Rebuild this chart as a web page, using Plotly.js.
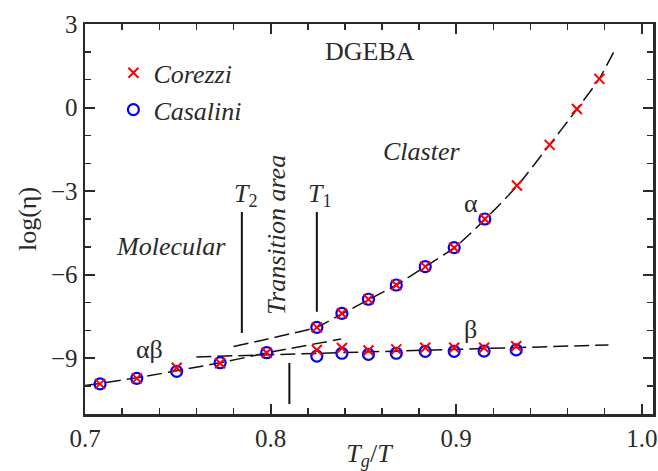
<!DOCTYPE html>
<html>
<head>
<meta charset="utf-8">
<script src="https://cdn.plot.ly/plotly-3.0.1.min.js"></script>
<style>html,body{margin:0;padding:0;background:#fff;}#chart{width:658px;height:471px;}</style>
</head>
<body>
<div id="chart"></div>
<script>
// ---- Data ----
// alpha-beta region (both data sets)
const abX = [0.7081, 0.7279, 0.7494, 0.7728, 0.7979];
const abCasalini = [-9.92, -9.72, -9.47, -9.16, -8.80];
const abCorezzi = [-9.92, -9.72, -9.34, -9.18, -8.80];
// alpha branch
const alphaX = [0.8249, 0.8384, 0.8527, 0.8677, 0.8833, 0.8989, 0.9154];
const alphaCasalini = [-7.89, -7.39, -6.88, -6.37, -5.71, -5.03, -4.00];
const alphaXCorezzi = [0.8249, 0.8384, 0.8527, 0.8677, 0.8833, 0.8989, 0.9154, 0.9327, 0.9503, 0.9650, 0.9771];
const alphaCorezzi = [-7.89, -7.39, -6.88, -6.37, -5.71, -5.03, -4.00, -2.80, -1.34, -0.05, 1.03];
// beta branch
const betaX = [0.8249, 0.8384, 0.8527, 0.8677, 0.8833, 0.8989, 0.9150, 0.9323];
const betaCasalini = [-8.92, -8.82, -8.86, -8.82, -8.75, -8.75, -8.74, -8.70];
const betaCorezzi = [-8.70, -8.63, -8.72, -8.68, -8.62, -8.62, -8.62, -8.57];
// fitted (dashed) curves
const fitAbX = [0.700, 0.725, 0.750, 0.775, 0.800, 0.820, 0.838];
const fitAbY = [-9.98, -9.73, -9.44, -9.13, -8.78, -8.53, -8.31];
const fitBetaX = [0.760, 0.850, 0.982];
const fitBetaY = [-8.95, -8.77, -8.52];
const fitAlphaX = [0.780, 0.795, 0.810, 0.825, 0.838, 0.853, 0.868, 0.883, 0.899, 0.915, 0.933, 0.950, 0.965, 0.977, 0.986];
const fitAlphaY = [-8.58, -8.36, -8.13, -7.88, -7.42, -6.89, -6.36, -5.72, -5.03, -4.05, -2.80, -1.36, -0.06, 1.03, 2.14];
// marker lines (T2, T1, lower divider)
const vLineX = [0.7845, 0.8249, 0.8101];
const vLineY0 = [-3.75, -3.75, -9.17];
const vLineY1 = [-8.09, -7.33, -10.64];
// tick labels
const xTicks = [0.7, 0.8, 0.9, 1.0];
const yTicks = [-9, -6, -3, 0, 3];

const FONT = 'Liberation Serif';
const INK = '#2a2a2a';
const dash = '15px,6px';
const FS = 26;

const traces = [
  {x: fitAbX, y: fitAbY, mode: 'lines', line: {color: '#111', width: 1.5, dash: dash, shape: 'spline'}, showlegend: false, hoverinfo: 'skip'},
  {x: fitBetaX, y: fitBetaY, mode: 'lines', line: {color: '#111', width: 1.5, dash: dash}, showlegend: false, hoverinfo: 'skip'},
  {x: fitAlphaX, y: fitAlphaY, mode: 'lines', line: {color: '#111', width: 1.5, dash: dash, shape: 'spline', smoothing: 0.6}, showlegend: false, hoverinfo: 'skip'},
  {x: abX.concat(alphaX, betaX), y: abCasalini.concat(alphaCasalini, betaCasalini), mode: 'markers', name: '<i>Casalini</i>',
   marker: {symbol: 'circle-open', size: 11, color: '#0000ff', line: {width: 2.2, color: '#0000ff'}}, legendrank: 2},
  {x: abX.concat(alphaXCorezzi, betaX), y: abCorezzi.concat(alphaCorezzi, betaCorezzi), mode: 'markers', name: '<i>Corezzi</i>',
   marker: {symbol: 'x-thin-open', size: 10, color: '#ff0000', line: {width: 2, color: '#ff0000'}}, legendrank: 1}
];

const shapes = vLineX.map((x, i) => ({type: 'line', xref: 'x', yref: 'y', x0: x, x1: x, y0: vLineY0[i], y1: vLineY1[i], line: {color: '#111', width: 2}}));

function ann(text, x, y, opts) {
  return Object.assign({text: text, x: x, y: y, xref: 'x', yref: 'y', showarrow: false, font: {family: FONT, size: FS, color: INK}}, opts || {});
}

const annotations = [
  ann('DGEBA', 0.8536, 2.0),
  ann('<i>Claster</i>', 0.8811, -1.59),
  ann('α', 0.9081, -3.43),
  ann('β', 0.9075, -7.98),
  ann('αβ', 0.735, -8.70),
  ann('<i>Molecular</i>', 0.7464, -4.97),
  ann('<i>Transition area</i>', 0.8035, -4.57, {textangle: -90}),
  ann('<i>T</i><sub>2</sub>', 0.7868, -3.14),
  ann('<i>T</i><sub>1</sub>', 0.8267, -3.14)
];

const axisCommon = {
  showgrid: false, zeroline: false, showline: true, linecolor: INK, linewidth: 2.5,
  mirror: 'allticks', ticks: 'inside', ticklen: 10, tickwidth: 2, tickcolor: INK,
  tickfont: {family: FONT, size: 25, color: INK}
};

const layout = {
  width: 658, height: 471,
  margin: {l: 85, r: 5, t: 24, b: 57},
  paper_bgcolor: '#fff', plot_bgcolor: '#fff',
  font: {family: FONT, size: FS, color: INK},
  xaxis: Object.assign({}, axisCommon, {
    range: [0.7, 1.006], tickvals: xTicks, ticktext: xTicks.map(v => v.toFixed(1)),
    minor: {dtick: 0.02, tick0: 0.7, ticks: 'inside', ticklen: 6, tickwidth: 1.5, tickcolor: INK},
    title: {text: '<i>T</i><sub><i>g</i></sub>/<i>T</i>', font: {family: FONT, size: FS, color: INK}, standoff: 3}
  }),
  yaxis: Object.assign({}, axisCommon, {
    range: [-11, 3], tickvals: yTicks,
    minor: {dtick: 1, tick0: 0, ticks: 'inside', ticklen: 6, tickwidth: 1.5, tickcolor: INK},
    title: {text: 'log(η)', font: {family: FONT, size: FS, color: INK}, standoff: 7}
  }),
  showlegend: true,
  legend: {x: 0.05, y: 0.935, xanchor: 'left', yanchor: 'top', bgcolor: 'rgba(0,0,0,0)', font: {family: FONT, size: FS, color: INK}, traceorder: 'normal', itemwidth: 30, tracegroupgap: 0},
  shapes: shapes,
  annotations: annotations
};

Plotly.newPlot('chart', traces, layout, {displayModeBar: false, staticPlot: true});
</script>
</body>
</html>
